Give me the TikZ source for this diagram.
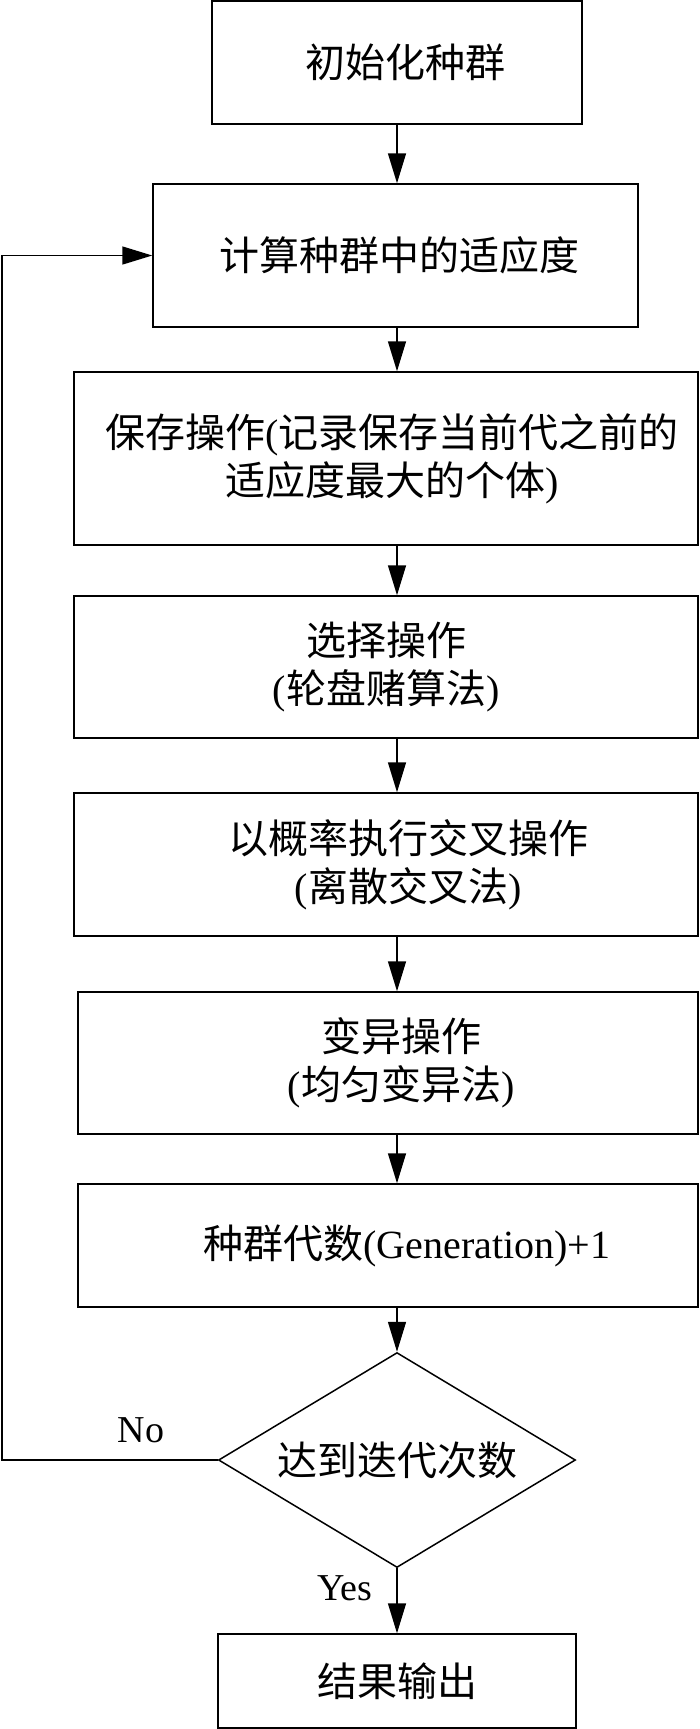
\documentclass[tikz,border=0pt]{standalone}
\usepackage{fontspec}
\setmainfont{Liberation Serif}
\newfontfamily\cjk{Noto Sans CJK SC}
\usetikzlibrary{shapes.geometric,arrows.meta}

\tikzset{
  stage/.style={draw, line width=1.5pt, inner sep=0pt, align=center,
    font=\fontsize{40}{48}\selectfont},
  test/.style={stage, shape=diamond, aspect=1.66},
  lbl/.style={inner sep=0pt, font=\fontsize{38}{44}\selectfont},
  arr/.style={line width=1.5pt, -{Triangle[length=30pt,width=18pt]}}
}

\begin{document}
\begin{tikzpicture}[x=1pt,y=-1pt]
  \useasboundingbox (0,0) rectangle (700,1729);

  % Box: initialise population
  \node[stage, minimum width=370pt, minimum height=123pt] (init) at (397,62.5)
    {\hspace*{16pt}\cjk 初始化种群};

  % Box: fitness
  \node[stage, minimum width=485pt, minimum height=143pt] (fit) at (395.5,255.5)
    {\hspace*{8pt}\cjk 计算种群中的适应度};

  % Box: keep best
  \node[stage, minimum width=624pt, minimum height=173pt] (keep) at (386,458.5)
    {\hspace*{12pt}{\cjk 保存操作}({\cjk 记录保存当前代之前的}\\
     \hspace*{12pt}{\cjk 适应度最大的个体})};

  % Box: selection
  \node[stage, minimum width=624pt, minimum height=142pt] (select) at (386,667)
    {{\cjk 选择操作}\\({\cjk 轮盘赌算法})};

  % Box: crossover
  \node[stage, minimum width=624pt, minimum height=143pt] (cross) at (386,864.5)
    {\hspace*{44pt}{\cjk 以概率执行交叉操作}\\\hspace*{44pt}({\cjk 离散交叉法})};

  % Box: mutation
  \node[stage, minimum width=620pt, minimum height=142pt] (mutate) at (388,1063)
    {\hspace*{26pt}{\cjk 变异操作}\\\hspace*{26pt}({\cjk 均匀变异法})};

  % Box: generation counter
  \node[stage, minimum width=620pt, minimum height=123pt] (gen) at (388,1245.5)
    {\hspace*{38pt}{\cjk 种群代数}(Generation)+1};

  % Decision
  \node[test, minimum width=357pt, minimum height=215pt] (check) at (397,1460)
    {\cjk 达到迭代次数};

  % Box: output
  \node[stage, minimum width=358pt, minimum height=94pt] (out) at (397,1681)
    {\cjk 结果输出};

  % arrows
  \draw[arr] (init) -- (init |- fit.north);
  \draw[arr] (init |- fit.south) -- (init |- keep.north);
  \draw[arr] (init |- keep.south) -- (init |- select.north);
  \draw[arr] (init |- select.south) -- (init |- cross.north);
  \draw[arr] (init |- cross.south) -- (init |- mutate.north);
  \draw[arr] (init |- mutate.south) -- (init |- gen.north);
  \draw[arr] (init |- gen.south) -- (check.north);
  \draw[arr] (check.south) -- (out.north);

  % loop back
  \coordinate (back) at (2,1460);
  \draw[arr] (check.west) -- (back) |- (fit.west);

  \node[lbl] (no) at (141,1430) {No};
  \node[lbl] (yes) at (345,1588) {Yes};
\end{tikzpicture}
\end{document}
